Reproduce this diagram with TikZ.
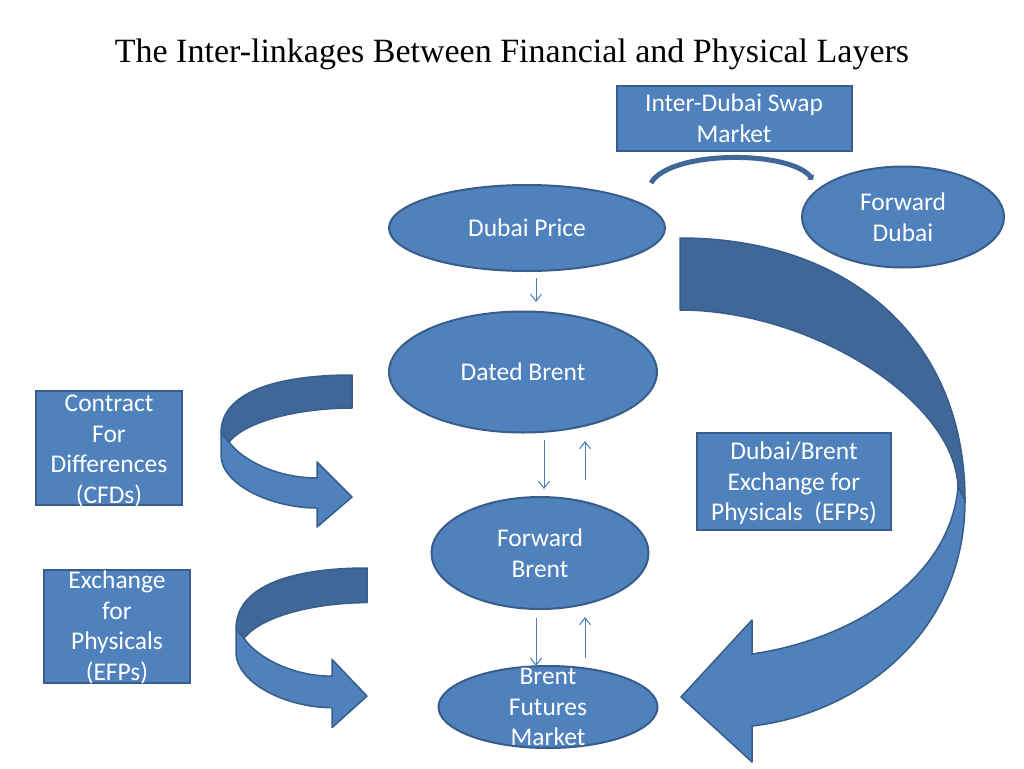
\documentclass[tikz,border=0pt]{standalone}
\usepackage{fontspec}
\setmainfont{Carlito}
\newfontfamily\titlefont{Liberation Serif}
\usetikzlibrary{shapes.geometric,arrows.meta}

\definecolor{boxfill}{HTML}{4F81BD}
\definecolor{boxline}{HTML}{385D8A}
\definecolor{backfill}{HTML}{3F6797}
\definecolor{thinblue}{HTML}{4A7EBB}

\tikzset{
  block/.style={rectangle, fill=boxfill, draw=boxline, line width=2pt, outer sep=0pt, inner sep=0pt},
  oval/.style={ellipse, fill=boxfill, draw=boxline, line width=2pt, outer sep=0pt, inner sep=0pt},
  txt/.style={text=white, align=center, inner sep=0pt, font=\fontsize{25.5}{30.5}\selectfont},
  flow/.style={thinblue, line width=1pt, -{Straight Barb[length=7pt,width=11pt]}},
  front/.style={fill=boxfill, draw=boxline, line width=1.5pt, line join=round},
  back/.style={fill=backfill, draw=boxline, line width=1.5pt, line join=round},
  swaparc/.style={backfill, line width=5pt, -{Triangle[length=4pt,width=9pt]}},
}

\begin{document}
\begin{tikzpicture}[x=1pt,y=-1pt]
        \useasboundingbox (0,0) rectangle (1024,768);

        \node[anchor=base, font=\titlefont\fontsize{34}{40}\selectfont] (title) at (512,63)
            {The Inter-linkages Between Financial and Physical Layers};

        % Big curved arrows
        \draw[back]  (680,238) .. controls (850,238) and (965,340) .. (965,500) -- (958,487)
                     .. controls (955,400) and (810,310) .. (680,310) -- cycle;
        \draw[front] (958,487) -- (965,500) .. controls (965,640) and (850,715) .. (752,726)
                     -- (752,762) -- (681,697) -- (752,620) -- (752,654)
                     .. controls (850,640) and (950,580) .. (958,487) -- cycle;

        \begin{scope}[shift={(352,375)}]
          \draw[back]  (0,0) .. controls (-70,0) and (-131,15) .. (-131,58) -- (-123,67)
                       .. controls (-105,45) and (-50,33) .. (0,33) -- cycle;
          \draw[front] (-131,58) -- (-131,80) .. controls (-131,110) and (-80,133) .. (-35,133)
                       -- (-35,152) -- (0,122) -- (-35,87) -- (-35,103)
                       .. controls (-75,103) and (-110,85) .. (-123,67) -- cycle;
        \end{scope}
        \begin{scope}[shift={(367,568)}, yscale=1.05]
          \draw[back]  (0,0) .. controls (-70,0) and (-131,15) .. (-131,58) -- (-123,67)
                       .. controls (-105,45) and (-50,33) .. (0,33) -- cycle;
          \draw[front] (-131,58) -- (-131,80) .. controls (-131,110) and (-80,133) .. (-35,133)
                       -- (-35,152) -- (0,122) -- (-35,87) -- (-35,103)
                       .. controls (-75,103) and (-110,85) .. (-123,67) -- cycle;
        \end{scope}

        % Boxes
        \node[block, minimum width=235, minimum height=65]  (swap)  at (734,118) {};
        \node[block, minimum width=146, minimum height=114] (cfd)   at (109,448) {};
        \node[block, minimum width=146, minimum height=113] (efp)   at (117,626) {};
        \node[block, minimum width=194, minimum height=97]  (dbefp) at (794,481) {};

        % Ellipses
        \node[oval, minimum width=202, minimum height=101] (fdubai)  at (903,217) {};
        \node[oval, minimum width=276, minimum height=86]  (price)   at (527,228) {};
        \node[oval, minimum width=268, minimum height=121] (dated)   at (523,372) {};
        \node[oval, minimum width=217, minimum height=112] (fbrent)  at (540,553) {};
        \node[oval, minimum width=219, minimum height=82]  (futures) at (548,707) {};

        % Texts
        \node[txt] (swaptxt)   at (swap)    {Inter-Dubai Swap\\Market};
        \node[txt, yshift=-3pt]   (cfdtxt)   at (cfd)   {Contract\\For\\Differences\\(CFDs)};
        \node[txt, yshift=-1.5pt] (efptxt)   at (efp)   {Exchange\\for\\Physicals\\(EFPs)};
        \node[txt, yshift=-2.5pt] (dbefptxt) at (dbefp) {Dubai/Brent\\Exchange for\\Physicals\ \ (EFPs)};
        \node[txt] (fdubaitxt) at (fdubai)  {Forward\\Dubai};
        \node[txt] (pricetxt)  at (price)   {Dubai Price};
        \node[txt] (datedtxt)  at (dated)   {Dated Brent};
        \node[txt] (fbrenttxt) at (fbrent)  {Forward\\Brent};
        \node[txt] (futtxt)    at (futures) {Brent\\Futures\\Market};

        % Swap arc
        \coordinate (sw1) at (651,183);
        \coordinate (sw2) at (813,180);
        \draw[swaparc] (sw1) .. controls (670,150) and (790,150) .. (sw2);

        % Thin arrows
        \draw[flow] ([xshift=9pt,yshift=-7pt]price.south)   -- ([xshift=13pt,yshift=9.5pt]dated.north);
        \draw[flow] ([xshift=21pt,yshift=-7.5pt]dated.south) -- ([xshift=4pt,yshift=8pt]fbrent.north);
        \draw[flow] ([xshift=45pt,yshift=17pt]fbrent.north)  -- ([xshift=62pt,yshift=-8.5pt]dated.south);
        \draw[flow] ([xshift=-4pt,yshift=-9pt]fbrent.south)  -- ([xshift=-12pt]futures.north);
        \draw[flow] ([xshift=37pt,yshift=8pt]futures.north)  -- ([xshift=45pt,yshift=-8pt]fbrent.south);
\end{tikzpicture}
\end{document}
